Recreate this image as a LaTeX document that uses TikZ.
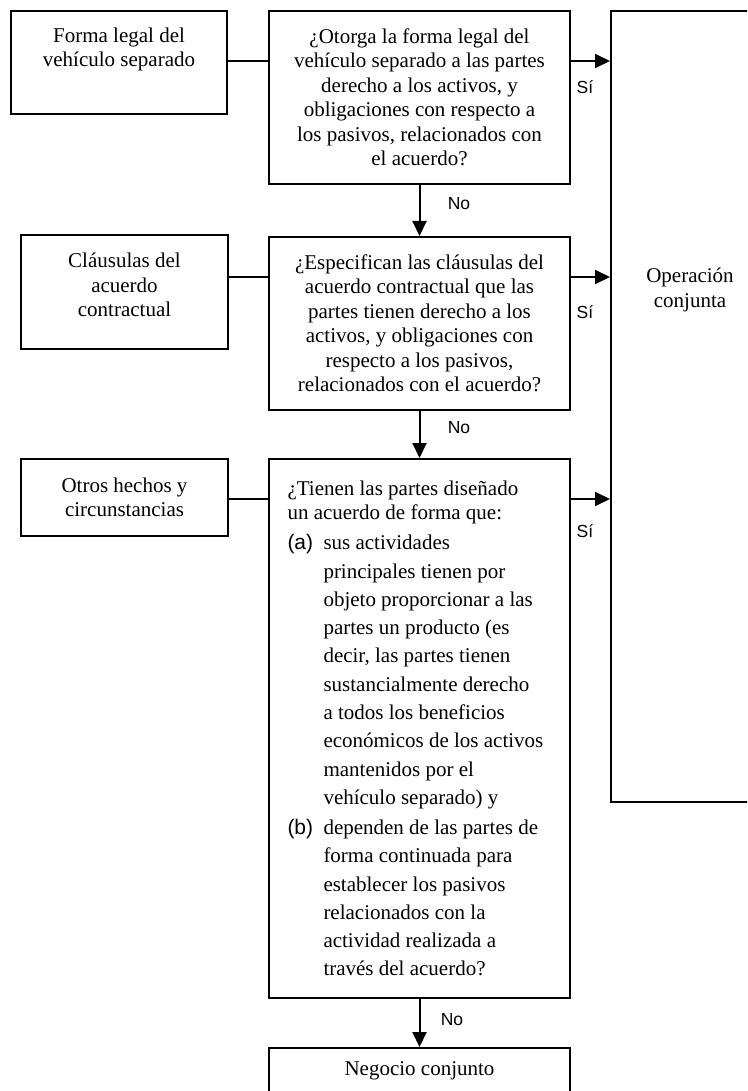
\documentclass[tikz,border=0pt]{standalone}
\usepackage{fontspec}
\setmainfont{Liberation Serif}
\setsansfont{Liberation Sans}
\usetikzlibrary{arrows.meta}

\tikzset{
  caja/.style={draw, line width=2pt, anchor=north west, inner sep=0pt, align=center, font=\fontsize{21}{24.5}\selectfont},
  flecha/.style={line width=2pt, -{Triangle[length=15pt,width=14pt]}},
  linea/.style={line width=2pt},
  etiq/.style={font=\sffamily\fontsize{17.5}{20}\selectfont, inner sep=0pt},
}
\newcommand{\itemlab}[1]{\makebox[36pt][l]{\sffamily(#1)}}
\newcommand{\itemind}{\hspace*{36pt}}

\begin{document}
\begin{tikzpicture}[x=1pt,y=-1pt]
	\useasboundingbox (0,0) rectangle (747,1091);
	\clip (0,0) rectangle (747,1091);
	% boxes on the left
	\node [caja, minimum width=216pt, minimum height=103pt, text depth=31pt] (forma) at (10,10) {Forma legal del\\veh\'iculo separado};
	\node [caja, minimum width=207pt, minimum height=114pt] (clausulas) at (20,234) {Cl\'ausulas del\\acuerdo\\contractual\rule[-14pt]{0pt}{0pt}};
	\node [caja, minimum width=207pt, minimum height=77pt] (otros) at (20,458) {Otros hechos y\\circunstancias};
	% questions
	\node [caja, minimum width=301pt, minimum height=173pt] (q1) at (268,10) {¿Otorga la forma legal del\\veh\'iculo separado a las partes\\derecho a los activos, y\\obligaciones con respecto a\\los pasivos, relacionados con\\el acuerdo?};
	\node [caja, minimum width=301pt, minimum height=173pt] (q2) at (268,236) {¿Especifican las cl\'ausulas del\\acuerdo contractual que las\\partes tienen derecho a los\\activos, y obligaciones con\\respecto a los pasivos,\\relacionados con el acuerdo?};
	\node [caja, minimum width=301pt, minimum height=539pt, align=flush left, text width=264pt] (q3) at (268,458) {¿Tienen las partes dise\~nado\\un acuerdo de forma que:\\[5.5pt]
		\itemlab{a}sus actividades\\[3.8pt]
		\itemind principales tienen por\\[3.8pt]
		\itemind objeto proporcionar a las\\[3.8pt]
		\itemind partes un producto (es\\[3.8pt]
		\itemind decir, las partes tienen\\[3.8pt]
		\itemind sustancialmente derecho\\[3.8pt]
		\itemind a todos los beneficios\\[3.8pt]
		\itemind econ\'omicos de los activos\\[3.8pt]
		\itemind mantenidos por el\\[3.8pt]
		\itemind veh\'iculo separado) y\\[5.5pt]
		\itemlab{b}dependen de las partes de\\[3.8pt]
		\itemind forma continuada para\\[3.8pt]
		\itemind establecer los pasivos\\[3.8pt]
		\itemind relacionados con la\\[3.8pt]
		\itemind actividad realizada a\\[3.8pt]
		\itemind trav\'es del acuerdo?};
	% results
	\node [caja, minimum width=301pt, minimum height=46pt] (negocio) at (268,1047) {Negocio conjunto};
	\node [caja, minimum width=160pt, minimum height=791pt] (op) at (610,10) {};
	\node [font=\fontsize{21}{24.5}\selectfont, align=center] (optxt) at (690,290) {Operaci\'on\\conjunta};
	% connectors
	\coordinate (y1) at (0,61);
	\coordinate (y2) at (0,277);
	\coordinate (y3) at (0,499);
	\draw [linea] (forma.east |- y1) -- (q1.west |- y1);
	\draw [linea] (clausulas.east |- y2) -- (q2.west |- y2);
	\draw [linea] (otros.east |- y3) -- (q3.west |- y3);
	\draw [flecha] (q1.east |- y1) -- (op.west |- y1);\node [etiq] (si1) at (585,87) {Sí};
	\draw [flecha] (q2.east |- y2) -- (op.west |- y2);\node [etiq] (si2) at (585,312) {Sí};
	\draw [flecha] (q3.east |- y3) -- (op.west |- y3);\node [etiq] (si3) at (585,531) {Sí};
	\draw [flecha] (q1.south) -- (q2.north);\node [etiq] (no1) at (459,204) {No};
	\draw [flecha] (q2.south) -- (q3.north);\node [etiq] (no2) at (459,428) {No};
	\draw [flecha] (q3.south) -- (negocio.north);\node [etiq] (no3) at (452,1020) {No};
\end{tikzpicture}
\end{document}
